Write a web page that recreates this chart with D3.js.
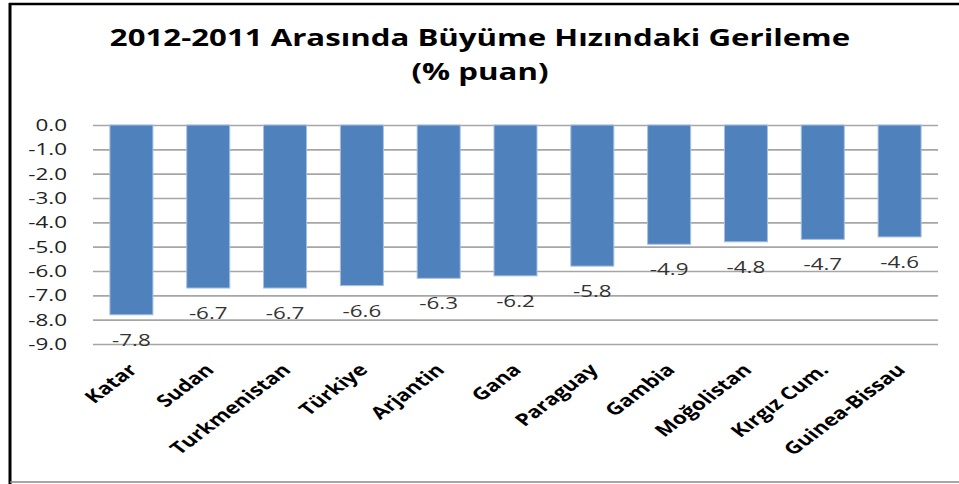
<!DOCTYPE html>
<html>
<head>
<meta charset="utf-8">
<script src="https://cdn.jsdelivr.net/npm/d3@7"></script>
<style>
  body { margin: 0; background: #fff; }
  text { font-family: "Open Sans", "Noto Sans", sans-serif; }
</style>
</head>
<body>
<script>
// chart data
var countries = ["Katar", "Sudan", "Turkmenistan", "Türkiye", "Arjantin", "Gana",
                 "Paraguay", "Gambia", "Moğolistan", "Kırgız Cum.", "Guinea-Bissau"];
var values = [-7.8, -6.7, -6.7, -6.6, -6.3, -6.2, -5.8, -4.9, -4.8, -4.7, -4.6];
var yTicks = [0, -1, -2, -3, -4, -5, -6, -7, -8, -9];
var titleLines = ["2012-2011 Arasında Büyüme Hızındaki Gerileme", "(% puan)"];

var W = 959, H = 484;
var plotLeft = 93, plotRight = 938, plotTop = 125, plotBottom = 344;
var stretch = 1.33; // the reference glyphs look wide, stretch text horizontally

var svg = d3.select("body").append("svg")
    .attr("width", W)
    .attr("height", H);

// frame
svg.append("line").attr("x1", 9).attr("x2", W).attr("y1", 4).attr("y2", 4)
    .attr("stroke", "#000").attr("stroke-width", 2.5);
svg.append("line").attr("x1", 10).attr("x2", 10).attr("y1", 3).attr("y2", H)
    .attr("stroke", "#000").attr("stroke-width", 3);
svg.append("line").attr("x1", 10).attr("x2", W).attr("y1", 482).attr("y2", 482)
    .attr("stroke", "#888").attr("stroke-width", 1.5);

var x = d3.scaleBand().domain(countries).range([plotLeft, plotRight]).paddingInner(0.44).paddingOuter(0.22);
var y = d3.scaleLinear().domain([0, -9]).range([plotTop, plotBottom]);

// title
svg.selectAll(".title").data(titleLines).enter().append("text")
    .attr("class", "title")
    .attr("transform", function(d, i) {
        return "translate(480," + (46 + i * 34) + ") scale(1.3,1)";
    })
    .attr("text-anchor", "middle")
    .attr("font-size", 24)
    .attr("font-weight", "bold")
    .attr("fill", "#000")
    .text(function(d) { return d; });

// gridlines + y labels
var yAxis = svg.append("g")
    .attr("transform", "translate(" + plotLeft + ",0)")
    .call(d3.axisLeft(y).tickValues(yTicks).tickSize(-(plotRight - plotLeft)).tickFormat(""));
yAxis.select(".domain").remove();
yAxis.selectAll(".tick line").attr("stroke", "#a6a6a6").attr("stroke-width", 1.6);
yAxis.selectAll(".tick").append("text")
    .attr("transform", "translate(-26,0) scale(1.4,1)")
    .attr("dy", "0.35em")
    .attr("text-anchor", "end")
    .attr("font-size", 16)
    .attr("fill", "#222")
    .text(function(d) { return d.toFixed(1); });

// bars
svg.selectAll(".bar").data(values).enter().append("rect")
    .attr("class", "bar")
    .attr("x", function(d, i) { return x(countries[i]); })
    .attr("y", y(0))
    .attr("width", x.bandwidth())
    .attr("height", function(d) { return y(d) - y(0); })
    .attr("fill", "#4f81bd")
    .attr("stroke", "#a7bfe0")
    .attr("stroke-width", 1);

// value labels
svg.selectAll(".val").data(values).enter().append("text")
    .attr("class", "val")
    .attr("transform", function(d, i) {
        return "translate(" + (x(countries[i]) + x.bandwidth() / 2) + "," + (y(d) + 31) + ") scale(1.4,1)";
    })
    .attr("text-anchor", "middle")
    .attr("font-size", 16)
    .attr("fill", "#333")
    .text(function(d) { return d.toFixed(1); });

// category labels
svg.selectAll(".cat").data(countries).enter().append("text")
    .attr("class", "cat")
    .attr("transform", function(d) {
        return "translate(" + (x(d) + x.bandwidth() / 2 + 7) + ",371) scale(" + stretch + ",1) rotate(-45)";
    })
    .attr("text-anchor", "end")
    .attr("font-size", 17)
    .attr("font-weight", "bold")
    .attr("fill", "#000")
    .text(function(d) { return d; });
</script>
</body>
</html>
